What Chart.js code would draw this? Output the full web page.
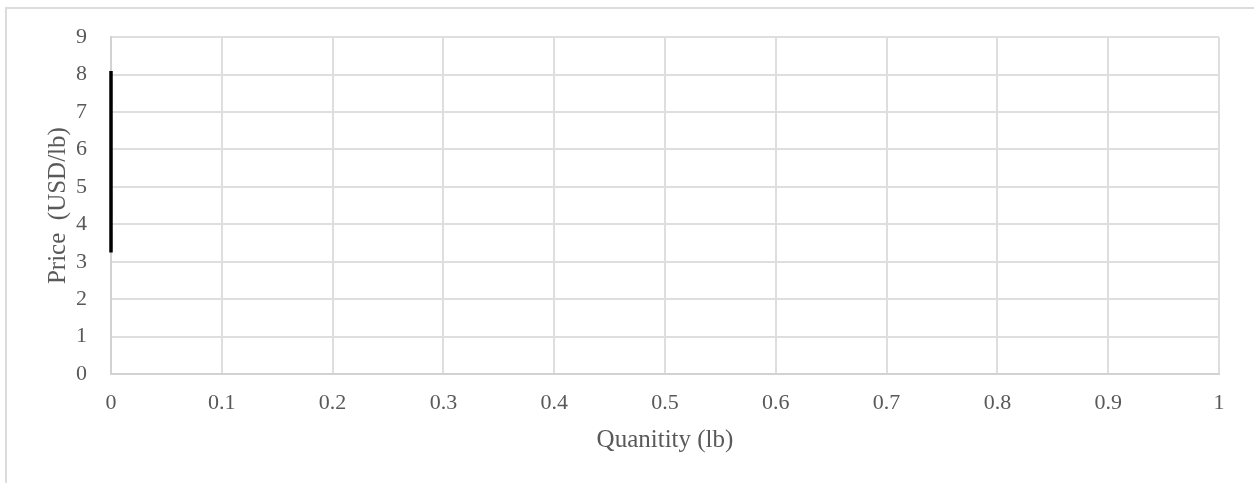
<!DOCTYPE html>
<html>
<head>
<meta charset="utf-8">
<script src="https://cdn.jsdelivr.net/npm/chart.js@4"></script>
<style>
  body { margin: 0; background: #fff; overflow: hidden; }
  #wrap { position: relative; width: 1254px; height: 483px; overflow: hidden; }
  #frame { position: absolute; left: 5px; top: 7px; width: 1400px; height: 600px; border: 2px solid #dcdcdc; }
  canvas { position: absolute; left: 0; top: 0; }
</style>
</head>
<body>
<div id="wrap">
  <div id="frame"></div>
  <canvas id="c" width="1254" height="483"></canvas>
</div>
<script>
const quantity = [0, 0];
const price = [8.1, 3.25];
const xTicks = [0, 0.1, 0.2, 0.3, 0.4, 0.5, 0.6, 0.7, 0.8, 0.9, 1];
const yTicks = [0, 1, 2, 3, 4, 5, 6, 7, 8, 9];

const serif = "'Liberation Serif', 'Times New Roman', serif";
const textColor = "#595959";
const gridColor = "#dedede";

let ctx = document.getElementById("c").getContext("2d");
const chart = new Chart(ctx, {
  type: "scatter",
  data: {
    datasets: [
      {
        data: quantity.map((q, i) => ({ x: q, y: price[i] })),
        showLine: true,
        borderColor: "#000000",
        borderWidth: 3.5,
        pointRadius: 0,
        clip: false,
      },
    ],
  },
  options: {
    responsive: false,
    animation: false,
    layout: { padding: { top: 36, right: 35, left: 0, bottom: 0 } },
    plugins: { legend: { display: false }, tooltip: { enabled: false } },
    scales: {
      x: {
        type: "linear",
        min: 0,
        max: 1,
        afterBuildTicks: (s) => { s.ticks = xTicks.map((v) => ({ value: v })); },
        afterFit: (s) => { s.height = 109; },
        grid: { color: gridColor, lineWidth: 2, drawTicks: false },
        border: { color: "#d2d2d2", width: 2 },
        ticks: {
          color: textColor,
          font: { family: serif, size: 22, lineHeight: 1.2 },
          padding: 16,
          maxRotation: 0,
          callback: (v) => String(v),
        },
        title: {
          display: true,
          text: "Quanitity (lb)",
          color: textColor,
          font: { family: serif, size: 25, lineHeight: 1 },
          padding: { top: 0, bottom: 30 },
        },
      },
      y: {
        type: "linear",
        min: 0,
        max: 9,
        afterBuildTicks: (s) => { s.ticks = yTicks.map((v) => ({ value: v })); },
        afterFit: (s) => { s.width = 111; },
        grid: { color: gridColor, lineWidth: 2, drawTicks: false },
        border: { color: "#d2d2d2", width: 2 },
        ticks: {
          color: textColor,
          font: { family: serif, size: 22, lineHeight: 1.2 },
          padding: 24,
          callback: (v) => String(v),
        },
        title: {
          display: true,
          text: "Price  (USD/lb)",
          color: textColor,
          font: { family: serif, size: 25, lineHeight: 1 },
          padding: { top: 46, bottom: 0 },
        },
      },
    },
  },
});
</script>
</body>
</html>
